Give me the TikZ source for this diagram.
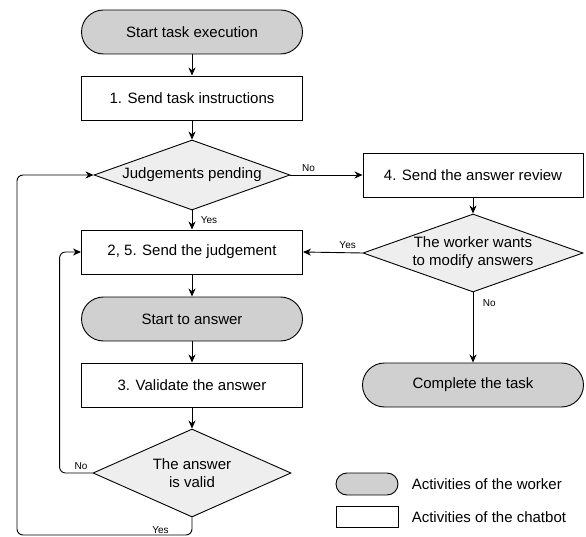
\documentclass[tikz,border=0pt]{standalone}
\usepackage{fontspec}
\setmainfont{Liberation Sans}
\usetikzlibrary{arrows.meta}
\usetikzlibrary{shapes.geometric}

\definecolor{workergray}{HTML}{D0D0D0}
\definecolor{choicegray}{HTML}{EEEEEE}

\begin{document}
\begin{tikzpicture}[x=1pt, y=-1pt, line width=0.9pt,
        >={Stealth[length=8pt,width=7pt,inset=2.5pt]},
        font=\fontsize{15}{18}\selectfont,
        worker/.style={draw, fill=workergray, rounded corners=22pt, minimum width=221pt, minimum height=44pt},
        chatbot/.style={draw, fill=white, minimum width=221pt, minimum height=44pt},
        choice/.style={draw, fill=choicegray, diamond, inner sep=-8pt, align=center},
        tag/.style={font=\fontsize{10}{12}\selectfont}]
        \useasboundingbox (0,0) rectangle (586,537);

        \node[worker] (start) at (192,32) {Start task execution};
        \node[chatbot] (instr) at (192,98) {1. Send task instructions};
        \node[choice, aspect=2.8, minimum width=196pt, minimum height=70pt] (pending) at (192,175) {Judgements pending};
        \node[chatbot] (judge) at (192,252) {2, 5. Send the judgement};
        \node[worker] (answer) at (192,319) {Start to answer};
        \node[chatbot] (validate) at (192,385) {3. Validate the answer};
        \node[choice, aspect=2.25, minimum width=198pt, minimum height=88pt] (valid) at (192,473) {The answer\\is valid};

        \node[chatbot, minimum width=220pt] (review) at (473,175) {4. Send the answer review};
        \node[choice, aspect=2.8, minimum width=220pt, minimum height=78pt] (wants) at (473,253) {The worker wants\\to modify answers};
        \node[worker] (complete) at (473,385) {Complete the task};

        \node[worker, minimum width=62pt, minimum height=22pt, rounded corners=11pt] (legworker) at (367,484) {};
        \node[anchor=west] (legworkertext) at (408,484) {Activities of the worker};
        \node[chatbot, minimum width=62pt, minimum height=21pt] (legchatbot) at (367,517) {};
        \node[anchor=west] (legchatbottext) at (408,517) {Activities of the chatbot};

        \coordinate (back) at (17,535);

        \draw [->] (start) -- (instr);
        \draw [->] (instr) -- (pending);
        \draw [->] (pending.east) -- node[tag, pos=0.25, above] {No} (review.west);
        \draw [->] (pending.south) -- node[tag, right=5pt] {Yes} (judge.north);
        \draw [->] (review) -- (wants);
        \draw [->] (wants.west) -- node[tag, pos=0.25, above] {Yes} (judge.east);
        \draw [->] (wants.south) -- node[tag, pos=0.15, right=6pt] {No} (complete.north);
        \draw [->] (judge) -- (answer);
        \draw [->] (answer) -- (validate);
        \draw [->] (validate) -- (valid);
        \draw [->, rounded corners=6pt] (valid.west) -- node[tag, pos=0.35, above] {No} ++(-33,0) |- (judge.west);
        \draw [->, rounded corners=6pt] (valid.south) |- node[tag, pos=0.59, above, inner sep=1pt] {Yes} (back) |- (pending.west);
    \end{tikzpicture}
\end{document}
